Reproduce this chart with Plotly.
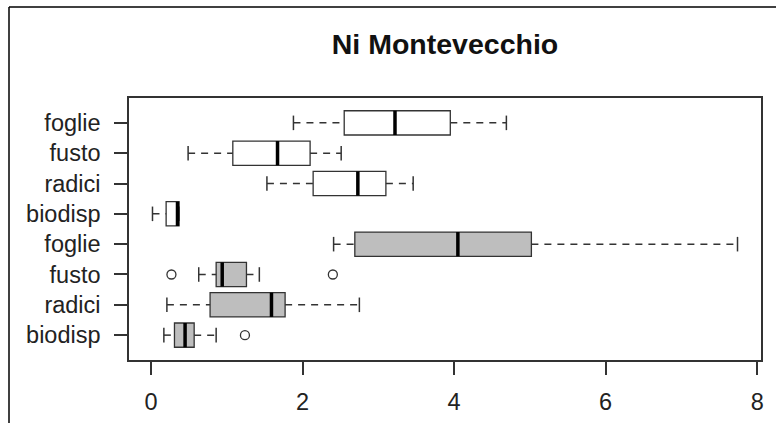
import plotly.graph_objects as go

# 每一列（由下往上）的標籤與五數摘要
labels = ["biodisp", "radici", "fusto", "foglie", "biodisp", "radici", "fusto", "foglie"]
positions = [1, 2, 3, 4, 5, 6, 7, 8]
lower = [0.17, 0.21, 0.63, 2.41, 0.02, 1.53, 0.49, 1.88]
q1 = [0.31, 0.78, 0.86, 2.69, 0.20, 2.14, 1.08, 2.55]
median = [0.45, 1.59, 0.94, 4.05, 0.35, 2.73, 1.67, 3.22]
q3 = [0.57, 1.77, 1.26, 5.02, 0.37, 3.10, 2.10, 3.95]
upper = [0.86, 2.75, 1.43, 7.74, 0.37, 3.46, 2.51, 4.69]

# 離群值
outlier_pos = [1, 3, 3]
outlier_val = [1.24, 0.27, 2.40]

x_ticks = [0, 2, 4, 6, 8]

FONT = "Liberation Sans, Arial, sans-serif"
EDGE = "#333333"
BOXW = 0.8
CAP = 0.24

fig = go.Figure()

# 盒子：下面四個灰色，上面四個白色
for idx, fill in [(range(0, 4), "#BEBEBE"), (range(4, 8), "white")]:
    fig.add_trace(go.Box(
        y=[positions[i] for i in idx],
        q1=[q1[i] for i in idx],
        median=[median[i] for i in idx],
        q3=[q3[i] for i in idx],
        lowerfence=[q1[i] for i in idx],
        upperfence=[q3[i] for i in idx],
        orientation="h",
        width=BOXW,
        fillcolor=fill,
        line=dict(color=EDGE, width=1.3),
        hoverinfo="skip",
        showlegend=False,
    ))

# 虛線鬚
wx, wy = [], []
for p, lo, a, b, hi in zip(positions, lower, q1, q3, upper):
    wx += [lo, a, None, b, hi, None]
    wy += [p, p, None, p, p, None]
fig.add_trace(go.Scatter(x=wx, y=wy, mode="lines",
                         line=dict(color=EDGE, width=1.5, dash="7px,6px"),
                         hoverinfo="skip", showlegend=False))

# 鬚的端點
cx, cy = [], []
for p, lo, hi in zip(positions, lower, upper):
    cx += [lo, lo, None, hi, hi, None]
    cy += [p - CAP, p + CAP, None, p - CAP, p + CAP, None]
fig.add_trace(go.Scatter(x=cx, y=cy, mode="lines",
                         line=dict(color=EDGE, width=1.5),
                         hoverinfo="skip", showlegend=False))

# 粗中位數線
mx, my = [], []
for p, m in zip(positions, median):
    mx += [m, m, None]
    my += [p - BOXW / 2, p + BOXW / 2, None]
fig.add_trace(go.Scatter(x=mx, y=my, mode="lines",
                         line=dict(color="black", width=3.5),
                         hoverinfo="skip", showlegend=False))

# 離群值
fig.add_trace(go.Scatter(x=outlier_val, y=outlier_pos, mode="markers",
                         marker=dict(symbol="circle-open", size=9,
                                     color=EDGE, line=dict(width=1.3)),
                         hoverinfo="skip", showlegend=False))

fig.update_layout(
    width=776, height=423,
    margin=dict(l=129, r=15, t=98, b=63),
    paper_bgcolor="white", plot_bgcolor="white",
    boxmode="overlay",
    font=dict(family=FONT, size=23.5, color="#222222"),
    title=dict(text="<b>Ni Montevecchio</b>", x=0.5, xref="paper",
               y=1 - 44 / 423, yref="container", yanchor="middle",
               font=dict(family=FONT, size=28.5, color="#111111")),
    showlegend=False,
)
fig.update_xaxes(range=[-0.29, 8.05], tickvals=x_ticks, automargin=False,
                 ticks="outside", ticklen=13, tickwidth=1.5, tickcolor=EDGE,
                 showline=True, mirror=True, linecolor=EDGE, linewidth=1.5,
                 showgrid=False, zeroline=False, ticklabelstandoff=7)
fig.update_yaxes(range=[0.18, 8.82], tickvals=positions, ticktext=labels, automargin=False,
                 ticks="outside", ticklen=13, tickwidth=1.5, tickcolor=EDGE,
                 showline=True, mirror=True, linecolor=EDGE, linewidth=1.5,
                 showgrid=False, zeroline=False, ticklabelstandoff=9)

# 外框（左邊與上邊）
fig.add_shape(type="line", xref="paper", yref="paper",
              x0=(9 - 129) / 632, x1=(9 - 129) / 632, y0=(360 - 7) / 262, y1=(360 - 430) / 262,
              line=dict(color="black", width=1.5))
fig.add_shape(type="line", xref="paper", yref="paper",
              x0=(9 - 129) / 632, x1=(780 - 129) / 632, y0=(360 - 7) / 262, y1=(360 - 7) / 262,
              line=dict(color="black", width=1.5))

# 去掉頁面預設的 8px 邊距，並隱藏工具列
fig.write_html("out.html", config={"displayModeBar": False},
               post_script="document.body.style.margin='0px';")
